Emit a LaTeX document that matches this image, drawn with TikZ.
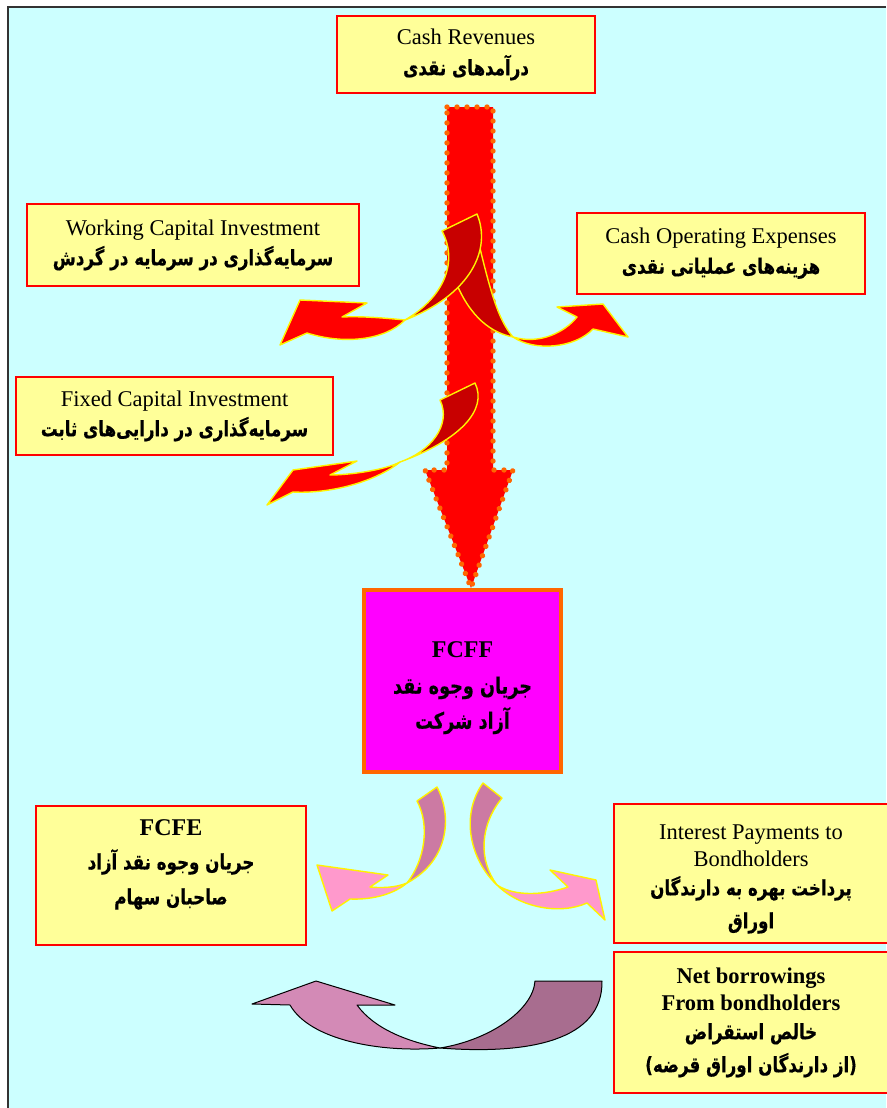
\documentclass[tikz,border=0pt]{standalone}
\usepackage{graphicx}
\usepackage{fontspec}
\usetikzlibrary{decorations.markings}
\setmainfont{Liberation Serif}
\newfontfamily\pfont[Script=Arabic, BoldFeatures={FakeBold=0.6}]{DejaVu Sans}
\TeXXeTstate=1
\newcommand\fatxt[2][17]{\scalebox{0.98}[1.25]{\pfont\bfseries\fontsize{#1}{#1}\selectfont\beginR #2\endR}}
\definecolor{bgcyan}{RGB}{204,255,255}
\definecolor{boxyellow}{RGB}{255,255,153}
\definecolor{dotorange}{RGB}{255,102,0}
\definecolor{darkred}{RGB}{200,0,0}
\definecolor{mauve}{RGB}{204,122,163}
\definecolor{pinkish}{RGB}{255,153,204}
\definecolor{uleft}{RGB}{211,138,182}
\definecolor{uright}{RGB}{168,109,143}
\definecolor{fcffmag}{RGB}{255,0,255}
\tikzset{
  ybox/.style={draw=red, line width=1.6pt, fill=boxyellow, inner sep=0pt, align=center,
     font=\fontsize{22.5}{27}\selectfont},
  redarrow/.style={fill=red, draw=yellow, line width=1.4pt, line join=round},
  darkpart/.style={fill=darkred, draw=yellow, line width=1.4pt, line join=round},
  pinkarrow/.style={fill=pinkish, draw=yellow, line width=1.4pt, line join=round},
  mauvepart/.style={fill=mauve, draw=yellow, line width=1.4pt, line join=round},
  dotted outline/.style={postaction={decorate}, decoration={markings,
     mark=between positions 0 and 1 step 10pt with {\fill[dotorange] (0,0) circle (2.7pt);}}},
}
\begin{document}
\begin{tikzpicture}[x=1pt,y=-1pt]
\useasboundingbox (0,0) rectangle (886,1108);
\fill[bgcyan] (8,7) rectangle (886,1108);
\draw[line width=1.3pt, black!80] (886,7) -- (8,7) -- (8,1108);

% boxes
\node[ybox, minimum width=258pt, minimum height=77pt] (cr) at (466,54.5)
  {Cash Revenues\\[4pt]\fatxt{درآمدهای نقدی}};
\node[ybox, minimum width=332pt, minimum height=82pt] (wc) at (193,245)
  {Working Capital Investment\\[3pt]\fatxt{سرمایه‌گذاری در سرمایه در گردش}};
\node[ybox, minimum width=317pt, minimum height=78pt] (fc) at (174.5,416)
  {Fixed Capital Investment\\[3pt]\fatxt{سرمایه‌گذاری در دارایی‌های ثابت}};
\node[ybox, minimum width=288pt, minimum height=81pt] (coe) at (721,253.5)
  {Cash Operating Expenses\\[3pt]\fatxt{هزینه‌های عملیاتی نقدی}};
\node[ybox, minimum width=270pt, minimum height=139pt] (fcfe) at (171,875.5)
  {\textbf{\fontsize{24}{27}\selectfont FCFE}\\[7pt]\fatxt{جریان وجوه نقد آزاد}\\[8pt]\fatxt{صاحبان سهام}\\[0pt]};
\node[ybox, minimum width=274pt, minimum height=139pt] (ip) at (751,873.5)
  {\rule{0pt}{26pt}Interest Payments to\\Bondholders\\[2pt]\fatxt{پرداخت بهره به دارندگان}\\[6pt]\fatxt{اوراق}};
\node[ybox, minimum width=274pt, minimum height=141pt] (nb) at (751,1022.5)
  {\textbf{Net borrowings}\\\textbf{From bondholders}\\[2pt]\fatxt{خالص استقراض}\\[6pt]\fatxt{(از دارندگان اوراق قرضه)}};

% big arrow
\path[fill=red, dotted outline]
  (447,107) -- (493,107) -- (493,470) -- (513,470) -- (471,588) -- (425,470) -- (447,470) -- cycle;

% FCFF box
\node[draw=dotorange, line width=3.5pt, fill=fcffmag, minimum width=197pt, minimum height=182pt,
  inner sep=0pt] (fcff) at (462.5,681) {};
\node[align=center, inner sep=0pt, font=\fontsize{24}{27}\selectfont] (fcfftext) at (462.5,688)
  {\textbf{FCFF}\\[9pt]\fatxt[18]{جریان وجوه نقد}\\[8pt]\fatxt[18]{آزاد شرکت}};

% Cash operating expenses arrow
\draw[darkpart] (455,280) .. controls (470,318) and (492,333) .. (513,337)
  .. controls (498,320) and (490,290) .. (478,240) -- cycle;
\draw[redarrow] (513,337) .. controls (540,345) and (565,332) .. (577,317) -- (557,307) -- (603,304)
  -- (628,337) -- (593,329) .. controls (575,348) and (535,352) .. (513,337) -- cycle;
% Working capital arrow
\draw[darkpart] (442,231) -- (477,214) .. controls (492,250) and (470,295) .. (405,320)
  .. controls (440,300) and (460,265) .. (442,231) -- cycle;
\draw[redarrow] (405,320) .. controls (385,318) and (360,316) .. (342,317) -- (367,303) -- (300,300)
  -- (280,345) -- (307,333) .. controls (345,345) and (385,340) .. (405,320) -- cycle;
% Fixed capital arrow
\draw[darkpart] (440,400) -- (475,383) .. controls (488,410) and (460,440) .. (400,462)
  .. controls (430,452) and (452,425) .. (440,400) -- cycle;
\draw[redarrow] (400,462) .. controls (385,470) and (350,475) .. (330,475) -- (357,461) -- (293,470)
  -- (267,505) -- (293,492) .. controls (330,494) and (375,482) .. (400,462) -- cycle;

% pink arrows
\draw[mauvepart] (417,801) -- (437,787) .. controls (452,815) and (450,860) .. (407,883)
  .. controls (425,860) and (430,825) .. (417,801) -- cycle;
\draw[pinkarrow] (407,883) .. controls (395,888) and (380,888) .. (370,887) -- (388,875) -- (317,865)
  -- (332,911) -- (350,899) .. controls (375,900) and (395,893) .. (407,883) -- cycle;
\draw[mauvepart] (483,783) -- (502,798) .. controls (480,825) and (478,860) .. (497,885)
  .. controls (470,860) and (460,815) .. (483,783) -- cycle;
\draw[pinkarrow] (497,885) .. controls (515,897) and (545,895) .. (568,887) -- (550,870) -- (596,880)
  -- (605,920) -- (587,903) .. controls (560,915) and (520,908) .. (497,885) -- cycle;

% bottom U arrow
\draw[fill=uleft, draw=black, line width=1pt, line join=round]
  (440,1048) .. controls (410,1042) and (375,1030) .. (357,1005) -- (395,1005) -- (316,981)
  -- (252,1004) -- (290,1005) .. controls (310,1040) and (380,1053) .. (440,1048) -- cycle;
\draw[fill=uright, draw=black, line width=1pt, line join=round]
  (535,981) -- (602,981) .. controls (603,1040) and (530,1055) .. (440,1048)
  .. controls (490,1040) and (533,1010) .. (535,981) -- cycle;
\end{tikzpicture}
\end{document}
